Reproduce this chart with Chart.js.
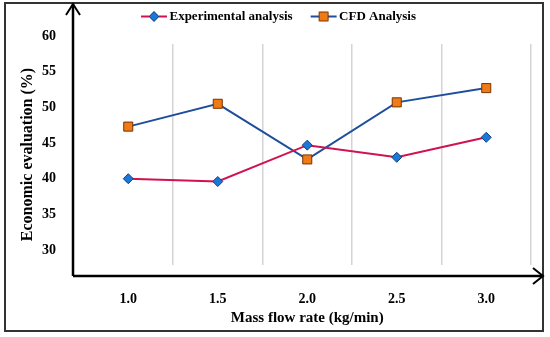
<!DOCTYPE html>
<html>
<head>
<meta charset="utf-8">
<script src="https://cdn.jsdelivr.net/npm/chart.js@4"></script>
<style>
  html, body { margin: 0; padding: 0; background: #fff; }
</style>
</head>
<body>
<canvas id="chart" width="550" height="337"></canvas>
<script>
var categories = ['1.0', '1.5', '2.0', '2.5', '3.0'];
var experimental = [40.0, 39.6, 44.7, 43.0, 45.8];
var cfd = [47.3, 50.5, 42.7, 50.7, 52.7];
var yTicks = [30, 35, 40, 45, 50, 55, 60];

var serif = "'Liberation Serif', 'Times New Roman', serif";

// line+marker images for the legend (blank on the left keeps the marker close to its text)
function legendMark(lineColor, shape, fill, stroke) {
  var c = document.createElement('canvas');
  c.width = 50; c.height = 12;
  var g = c.getContext('2d');
  g.strokeStyle = lineColor; g.lineWidth = 2;
  g.beginPath(); g.moveTo(18, 6); g.lineTo(44, 6); g.stroke();
  g.fillStyle = fill; g.strokeStyle = stroke; g.lineWidth = 1;
  g.beginPath();
  if (shape === 'diamond') {
    g.moveTo(31, 1); g.lineTo(36, 6); g.lineTo(31, 11); g.lineTo(26, 6); g.closePath();
  } else {
    g.rect(26.5, 1.5, 9, 9);
  }
  g.fill(); g.stroke();
  return c;
}
var marks = [
  legendMark('#d0124e', 'diamond', '#1b78d8', '#0a3f7a'),
  legendMark('#1f4e9c', 'square', '#f07a16', '#7a3300')
];

var decor = {
  id: 'decor',
  afterDraw: function(chart) {
    var ctx = chart.ctx, a = chart.chartArea;
    var ax = a.left - 10.5, ay = a.bottom + 11;
    ctx.save();
    ctx.strokeStyle = '#333'; ctx.lineWidth = 2;
    ctx.strokeRect(5, 3, 538, 328);
    ctx.strokeStyle = '#000'; ctx.lineWidth = 2.5;
    ctx.beginPath();
    ctx.moveTo(ax, ay); ctx.lineTo(ax, 4);
    ctx.moveTo(ax, ay); ctx.lineTo(543, ay);
    ctx.stroke();
    ctx.lineWidth = 2;
    ctx.beginPath();
    ctx.moveTo(ax - 7, 15); ctx.lineTo(ax, 4); ctx.lineTo(ax + 7, 15);
    ctx.moveTo(533, ay - 8); ctx.lineTo(543, ay); ctx.lineTo(533, ay + 8);
    ctx.stroke();
    ctx.restore();
  }
};

new Chart(document.getElementById('chart'), {
  type: 'line',
  data: {
    labels: categories,
    datasets: [{
      label: 'Experimental analysis',
      data: experimental,
      borderColor: '#d0124e',
      borderWidth: 2,
      pointStyle: 'rectRot',
      pointRadius: 5,
      pointBackgroundColor: '#1b78d8',
      pointBorderColor: '#0a3f7a',
      pointBorderWidth: 1,
      tension: 0
    }, {
      label: 'CFD Analysis',
      data: cfd,
      borderColor: '#1f4e9c',
      borderWidth: 2,
      pointStyle: 'rect',
      pointRadius: 6.4,
      pointBackgroundColor: '#f07a16',
      pointBorderColor: '#7a3300',
      pointBorderWidth: 1,
      tension: 0
    }]
  },
  options: {
    responsive: false,
    animation: false,
    layout: { padding: { left: 18, right: 19, top: 0, bottom: 0 } },
    plugins: {
      tooltip: { enabled: false },
      legend: {
        position: 'top',
        weight: 3000,
        labels: {
          usePointStyle: true,
          pointStyleWidth: 30,
          padding: 10,
          color: '#000',
          font: { family: serif, size: 13, weight: 'bold' },
          generateLabels: function(chart) {
            var items = Chart.defaults.plugins.legend.labels.generateLabels(chart);
            items.forEach(function(it, i) { it.pointStyle = marks[i]; });
            return items;
          }
        }
      },
      // empty subtitle used as a spacer between the legend and the plot
      subtitle: {
        display: true,
        text: ' ',
        font: { size: 1, lineHeight: 1 },
        padding: { top: 0, bottom: 10 }
      }
    },
    scales: {
      x: {
        offset: true,
        grid: {
          offset: true,
          drawTicks: false,
          color: function(c) { return c.index === 0 ? 'rgba(0,0,0,0)' : '#d4d4d4'; },
          lineWidth: 1.5
        },
        border: { display: false },
        ticks: { color: '#000', padding: 26, font: { family: serif, size: 14, weight: 'bold' } },
        title: {
          display: true,
          text: 'Mass flow rate (kg/min)',
          color: '#000',
          font: { family: serif, size: 15, weight: 'bold' },
          padding: { top: 0, bottom: 10 }
        },
        afterFit: function(s) { s.height = 337 - 265; }
      },
      y: {
        min: 27.9,
        max: 58.88,
        grid: { display: false, drawTicks: false },
        border: { display: false },
        afterBuildTicks: function(s) { s.ticks = yTicks.map(function(v) { return { value: v }; }); },
        ticks: { color: '#000', padding: 27.5, font: { family: serif, size: 14, weight: 'bold' } },
        title: {
          display: true,
          text: 'Economic evaluation (%)',
          color: '#000',
          font: { family: serif, size: 16, weight: 'bold' },
          padding: { top: 0, bottom: 0 }
        },
        afterFit: function(s) { s.width = 65.5; }
      }
    }
  },
  plugins: [decor]
});
</script>
</body>
</html>
